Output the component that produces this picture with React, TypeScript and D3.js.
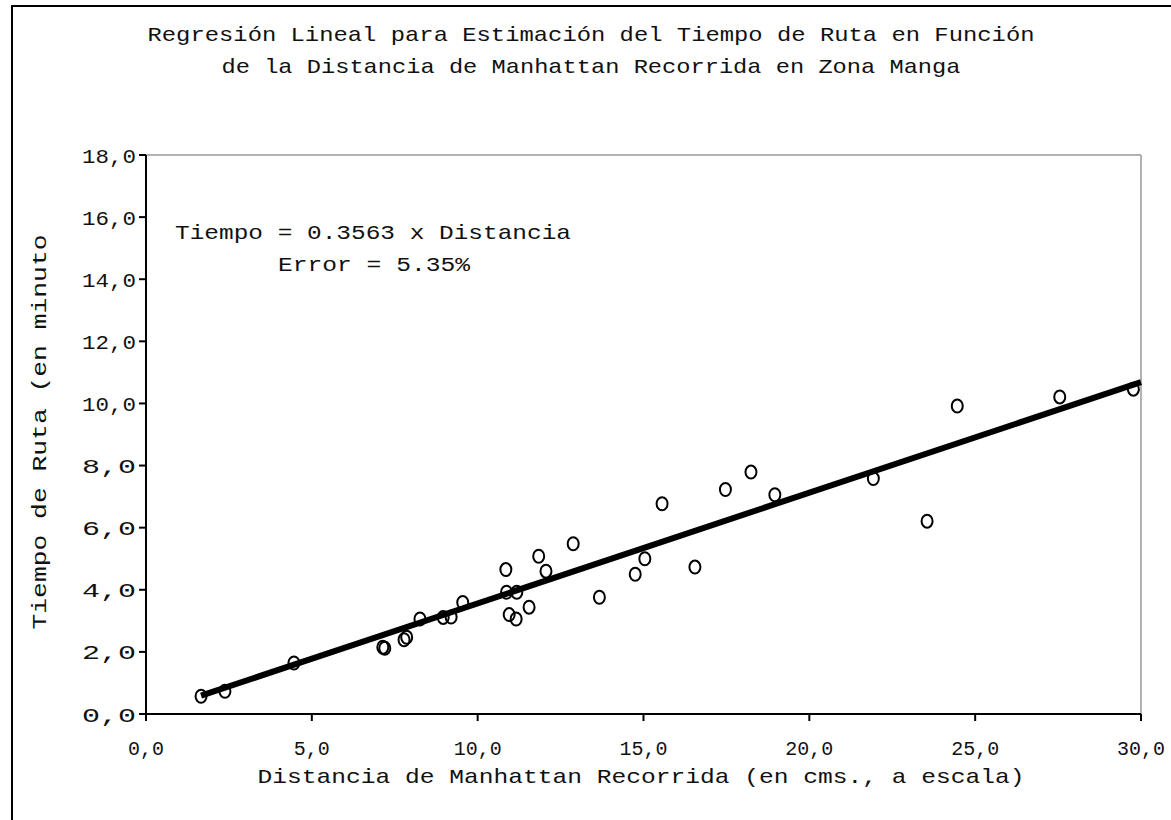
import React from "react";
import * as d3 from "d3";

const distances = [1.66, 2.38, 4.46, 7.14, 7.2, 7.78, 7.86, 8.26, 8.96, 9.2, 9.55, 10.85, 11.84, 12.06, 12.88, 10.87, 11.18, 10.95, 11.16, 11.55, 13.67, 14.75, 15.04, 16.55, 15.56, 17.47, 18.24, 18.96, 21.93, 23.55, 24.46, 27.55, 29.77];
const tiempos = [0.57, 0.73, 1.64, 2.15, 2.12, 2.39, 2.47, 3.06, 3.11, 3.12, 3.59, 4.65, 5.08, 4.6, 5.48, 3.92, 3.92, 3.2, 3.06, 3.44, 3.76, 4.5, 5.0, 4.73, 6.77, 7.23, 7.79, 7.06, 7.58, 6.21, 9.92, 10.21, 10.46];
const slope = 0.3563;
const lineX = [1.66, 30];
const xTicks = [0, 5, 10, 15, 20, 25, 30];
const yTicks = [0, 2, 4, 6, 8, 10, 12, 14, 16, 18];

const titleLines = [
  "Regresión Lineal para Estimación del Tiempo de Ruta en Función",
  "de la Distancia de Manhattan Recorrida en Zona Manga",
];
const xTitle = "Distancia de Manhattan Recorrida (en cms., a escala)";
const yTitle = "Tiempo de Ruta (en minuto";
const eqLines = ["Tiempo = 0.3563 x Distancia", "Error = 5.35%"];

const fmt = (v: number) => v.toFixed(1).replace(".", ",");
const FONT = "'Courier New', 'Liberation Mono', monospace";

export default function App() {
  const x = d3.scaleLinear().domain([0, 30]).range([146, 1141]);
  const y = d3.scaleLinear().domain([0, 18]).range([714, 155]);
  const line = d3
    .line<number>()
    .x((d) => x(d))
    .y((d) => y(slope * d));

  return (
    <svg
      width={1171}
      height={820}
      style={{ position: "absolute", left: 0, top: 0, background: "#fff" }}
      fontFamily={FONT}
    >
      <rect x={0} y={0} width={1171} height={820} fill="#fff" />
      {/* outer frame */}
      <rect x={12} y={6} width={1300} height={1000} fill="none" stroke="#000" strokeWidth={2} />

      {/* title */}
      <text x={591} y={41} fontSize={21} fill="#111" textAnchor="middle" textLength={887} lengthAdjust="spacingAndGlyphs">
        {titleLines[0]}
      </text>
      <text x={591} y={73} fontSize={21} fill="#111" textAnchor="middle" textLength={739} lengthAdjust="spacingAndGlyphs">
        {titleLines[1]}
      </text>

      {/* plot frame top/right gray */}
      <line x1={146} y1={155} x2={1141} y2={155} stroke="#999" strokeWidth={1.5} />
      <line x1={1141} y1={155} x2={1141} y2={714} stroke="#999" strokeWidth={1.5} />

      {/* axes */}
      <line x1={146} y1={155} x2={146} y2={714} stroke="#000" strokeWidth={2} />
      <line x1={146} y1={714} x2={1141} y2={714} stroke="#000" strokeWidth={2} />
      {yTicks.map((t) => (
        <g key={"y" + t}>
          <line x1={139} x2={146} y1={y(t)} y2={y(t)} stroke="#000" strokeWidth={2} />
          <text x={136} y={y(t)} dy="0.36em" fontSize={21} fill="#111" textAnchor="end" textLength={54} lengthAdjust="spacingAndGlyphs">
            {fmt(t)}
          </text>
        </g>
      ))}
      {xTicks.map((t) => (
        <g key={"x" + t}>
          <line x1={x(t)} x2={x(t)} y1={714} y2={721} stroke="#000" strokeWidth={2} />
          <text x={x(t)} y={755} fontSize={20} fill="#111" textAnchor="middle">
            {fmt(t)}
          </text>
        </g>
      ))}

      {/* axis titles */}
      <text x={641} y={783} fontSize={21} fill="#111" textAnchor="middle" textLength={767} lengthAdjust="spacingAndGlyphs">
        {xTitle}
      </text>
      <text
        transform={`translate(46, 432) rotate(-90)`}
        fontSize={21}
        fill="#111"
        textAnchor="middle"
        textLength={395}
        lengthAdjust="spacingAndGlyphs"
      >
        {yTitle}
      </text>

      {/* equation */}
      <text x={373} y={239} fontSize={21} fill="#111" textAnchor="middle" textLength={396} lengthAdjust="spacingAndGlyphs">
        {eqLines[0]}
      </text>
      <text x={374} y={271} fontSize={21} fill="#111" textAnchor="middle" textLength={192} lengthAdjust="spacingAndGlyphs">
        {eqLines[1]}
      </text>

      {/* regression line */}
      <path d={line(lineX) || ""} fill="none" stroke="#000" strokeWidth={6} />

      {/* points */}
      {distances.map((d, i) => (
        <ellipse key={i} cx={x(d)} cy={y(tiempos[i])} rx={5.5} ry={6.5} fill="none" stroke="#000" strokeWidth={2} />
      ))}
    </svg>
  );
}
